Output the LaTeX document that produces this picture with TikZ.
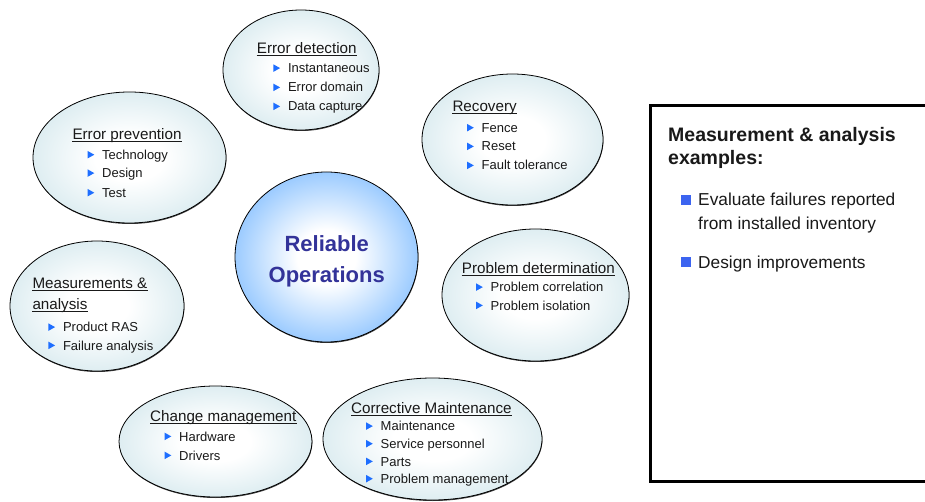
\documentclass[tikz,border=0pt]{standalone}
\usepackage{fontspec}
\setmainfont{Liberation Sans}
\usetikzlibrary{shapes.geometric,shadows}
\definecolor{triblue}{RGB}{30,110,255}
\definecolor{sqblue}{RGB}{60,100,240}
\definecolor{bubout}{RGB}{214,233,238}
\definecolor{relout}{RGB}{150,200,255}
\definecolor{reltext}{RGB}{51,51,153}
\definecolor{txt}{RGB}{25,25,25}
\pgfdeclareradialshading{bubshade}{\pgfpoint{0bp}{0bp}}{color(0bp)=(white); color(9bp)=(white); color(29bp)=(bubout); color(50bp)=(bubout)}
\pgfdeclareradialshading{relshade}{\pgfpoint{0bp}{0bp}}{color(0bp)=(white); color(8bp)=(white); color(26bp)=(relout); color(50bp)=(relout)}
\newcommand\mybub[5]{\node[bubble, minimum width=#4pt, minimum height=#5pt] (#1) at (#2,#3) {};}
\newcommand\mytitle[4]{\node[ttl] (#1) at (#2,#3) {#4};
  \draw[ul] ([yshift=-1.7pt]#1.base west) -- ([yshift=-1.7pt]#1.base east);}
\newcommand\myitem[4]{\fill[triblue] (#2,#3-8.4) -- (#2+6.8,#3-4.6) -- (#2,#3-0.8) -- cycle;
  \node[itm] (#1) at (#2+14.5,#3) {#4};}
\begin{document}
\begin{tikzpicture}[x=1pt,y=-1pt,
  bubble/.style={ellipse, draw=black, line width=0.8pt, inner sep=0pt,
    shading=bubshade,
    drop shadow={shadow xshift=0.4pt, shadow yshift=-1pt, fill=black!75, opacity=1}},
  ttl/.style={anchor=base west, inner sep=0pt, font=\fontsize{15.2}{18}\selectfont, text=txt},
  itm/.style={anchor=base west, inner sep=0pt, font=\fontsize{13}{16}\selectfont, text=txt},
  ul/.style={line width=0.8pt, txt},
  boxhead/.style={anchor=base west, inner sep=0pt, font=\bfseries\fontsize{19.5}{23}\selectfont, text=txt},
  boxitem/.style={anchor=base west, inner sep=0pt, font=\fontsize{17.3}{20}\selectfont, text=txt},
  reltxt/.style={anchor=base, inner sep=0pt, font=\bfseries\fontsize{22}{26}\selectfont, text=reltext},
]
\useasboundingbox[fill=white] (0,0) rectangle (925,502);

% bubbles
\mybub{det}{301}{70}{156}{120}
\mybub{rec}{512.5}{139.5}{181}{131}
\mybub{prev}{129.5}{157.5}{193}{131}
\mybub{pd}{535.5}{295}{187}{132}
\mybub{meas}{97}{306}{174}{130}
\mybub{chg}{215.5}{441.5}{193}{111}
\mybub{cor}{432.5}{439}{219}{122}
\node[ellipse, draw=black, line width=0.8pt, inner sep=0pt, minimum width=183pt, minimum height=170pt,
  shading=relshade,
  drop shadow={shadow xshift=0.4pt, shadow yshift=-1pt, fill=black!75, opacity=1}] (rel) at (326.5,257) {};
\node[reltxt] (rel1) at (326.7,251.7) {Reliable};
\node[reltxt] (rel2) at (326.7,282.7) {Operations};

% Error detection
\mytitle{detT}{256.7}{53.3}{Error detection}
\myitem{det1}{273.3}{72.7}{Instantaneous}
\myitem{det2}{273.3}{92}{Error domain}
\myitem{det3}{273.3}{111}{Data capture}

% Recovery
\mytitle{recT}{452.3}{111.7}{Recovery}
\myitem{rec1}{467}{132.3}{Fence}
\myitem{rec2}{467}{151}{Reset}
\myitem{rec3}{467}{170}{Fault tolerance}

% Error prevention
\mytitle{prevT}{72.3}{140}{Error prevention}
\myitem{prev1}{87.5}{159.3}{Technology}
\myitem{prev2}{87.5}{177.7}{Design}
\myitem{prev3}{87.5}{197.3}{Test}

% Problem determination
\mytitle{pdT}{461.7}{274}{Problem determination}
\myitem{pd1}{476}{291.7}{Problem correlation}
\myitem{pd2}{476}{310}{Problem isolation}

% Measurements & analysis
\mytitle{measT}{32.3}{288.3}{Measurements \&}
\mytitle{measU}{32.3}{309.3}{analysis}
\myitem{meas1}{48.3}{331.7}{Product RAS}
\myitem{meas2}{48.3}{350}{Failure analysis}

% Change management
\mytitle{chgT}{150}{421.7}{Change management}
\myitem{chg1}{164.5}{441}{Hardware}
\myitem{chg2}{164.5}{460}{Drivers}

% Corrective Maintenance
\mytitle{corT}{351}{413.3}{Corrective Maintenance}
\myitem{cor1}{366}{430.7}{Maintenance}
\myitem{cor2}{366}{448.3}{Service personnel}
\myitem{cor3}{366}{466}{Parts}
\myitem{cor4}{366}{483.3}{Problem management}

% Right box
\draw[line width=3.6pt, black] (650.3,105.7) rectangle (945,481.3);
\node[boxhead] (bh1) at (668,141.7) {Measurement \& analysis};
\node[boxhead] (bh2) at (668,165) {examples:};
\fill[sqblue] (681,195) rectangle (691,205);
\node[boxitem] (bi1) at (698,205.7) {Evaluate failures reported};
\node[boxitem] (bi2) at (698,230) {from installed inventory};
\fill[sqblue] (681,256.7) rectangle (691,266.7);
\node[boxitem] (bi3) at (698,268.3) {Design improvements};
\end{tikzpicture}
\end{document}
